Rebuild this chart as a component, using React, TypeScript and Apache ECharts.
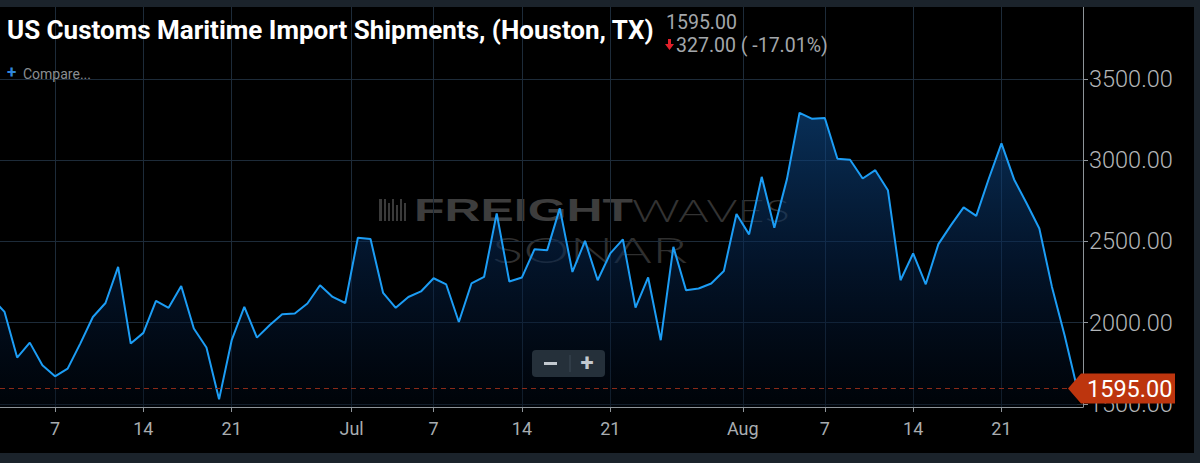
import React, { useEffect, useRef } from "react";
import * as echarts from "echarts";

// Daily values, Jun 2 – Jun 30
const junValues = [
  2150, 2066, 1785, 1877, 1738, 1670, 1717, 1871, 2035, 2121, 2343, 1871, 1937, 2134, 2091,
  2226, 1964, 1847, 1528, 1892, 2097, 1908, 1984, 2052, 2056, 2118, 2230, 2158, 2121,
];
// Jul 1 – Jul 31
const julValues = [
  2522, 2514, 2183, 2091, 2158, 2192, 2273, 2235, 2004, 2241, 2281, 2672, 2253, 2278, 2452,
  2446, 2703, 2312, 2503, 2261, 2426, 2512, 2093, 2278, 1892, 2466, 2200, 2210, 2241, 2318, 2668,
];
// Aug 1 – Aug 27
const augValues = [
  2543, 2897, 2584, 2883, 3291, 3254, 3259, 3008, 3002, 2887, 2938, 2815, 2261, 2426, 2236,
  2483, 2600, 2709, 2657, 2887, 3103, 2881, 2733, 2579, 2220, 1922, 1595,
];

// day index: 0 = Jun 1
const junStart = 1; // Jun 2
const julStart = 30; // Jul 1
const augStart = 61; // Aug 1

const xTickPositions = [6, 13, 20, 29.5, 36, 43, 50, 60.5, 67, 74, 81];
const xTickLabels = ["7", "14", "21", "Jul", "7", "14", "21", "Aug", "7", "14", "21"];
const yTickValues = [1500, 2000, 2500, 3000, 3500];

const TITLE = "US Customs Maritime Import Shipments, (Houston, TX)";

export default function App() {
  const ref = useRef<HTMLDivElement>(null);

  useEffect(() => {
    if (!ref.current) return;
    const chart = echarts.init(ref.current, undefined, { renderer: "svg" });

    const seriesData: [number, number][] = [];
    junValues.forEach((v, i) => seriesData.push([junStart + i, v]));
    julValues.forEach((v, i) => seriesData.push([julStart + i, v]));
    augValues.forEach((v, i) => seriesData.push([augStart + i, v]));

    const last = seriesData[seriesData.length - 1][1];
    const prev = seriesData[seriesData.length - 2][1];
    const change = last - prev;
    const pct = (change / prev) * 100;

    const xMin = 1.64;
    const xMax = 87.46;

    const gridColor = "#1d2b39";
    const axisColor = "#8e9499";
    const labelColor = "#a8adb1";

    const option: any = {
      animation: false,
      backgroundColor: "#000000",
      grid: { left: 0, right: 117, top: 7, bottom: 56, containLabel: false },
      xAxis: {
        type: "value",
        min: xMin,
        max: xMax,
        axisLine: { show: true, onZero: false, lineStyle: { color: axisColor, width: 1 } },
        axisTick: {
          show: true,
          customValues: xTickPositions,
          length: 5,
          lineStyle: { color: axisColor, width: 1 },
        },
        axisLabel: {
          show: true,
          customValues: xTickPositions,
          color: labelColor,
          fontSize: 18,
          fontFamily: "Roboto",
          margin: 12,
          formatter: (v: number) => {
            const i = xTickPositions.findIndex((p) => Math.abs(p - v) < 0.01);
            return i >= 0 ? xTickLabels[i] : "";
          },
        },
        splitLine: { show: true, lineStyle: { color: gridColor, width: 1 } },
      },
      yAxis: {
        type: "value",
        position: "right",
        min: 1481,
        max: 3942,
        axisLine: { show: true, lineStyle: { color: axisColor, width: 1 } },
        axisTick: {
          show: true,
          customValues: yTickValues,
          length: 5,
          lineStyle: { color: axisColor, width: 1 },
        },
        axisLabel: {
          show: true,
          customValues: yTickValues,
          color: "#b3b6b9",
          fontSize: 23.5,
          fontFamily: "Roboto",
          fontWeight: 300,
          margin: 6,
          formatter: (v: number) => v.toFixed(2),
        },
        splitLine: { show: true, lineStyle: { color: gridColor, width: 1 } },
      },
      series: [
        {
          type: "line",
          data: seriesData,
          symbol: "none",
          clip: true,
          z: 3,
          lineStyle: { color: "#1c9df5", width: 2 },
          areaStyle: {
            origin: "start",
            color: new echarts.graphic.LinearGradient(0, 0, 0, 1, [
              { offset: 0, color: "rgba(14, 78, 145, 0.85)" },
              { offset: 0.5, color: "rgba(6, 38, 80, 0.75)" },
              { offset: 1, color: "rgba(0, 8, 20, 0.6)" },
            ]),
          },
          markLine: {
            silent: true,
            symbol: "none",
            label: { show: false },
            lineStyle: { color: "#8a2a18", type: [5, 4], width: 1 },
            data: [{ yAxis: last }],
          },
        },
      ],
      graphic: {
        elements: [
          // watermark
          {
            type: "group",
            z: 1,
            silent: true,
            children: [
              { type: "rect", shape: { x: 379, y: 199, width: 3, height: 22 }, style: { fill: "#3a3a3a" } },
              { type: "rect", shape: { x: 384, y: 199, width: 2, height: 22 }, style: { fill: "#3a3a3a" } },
              { type: "rect", shape: { x: 388, y: 203, width: 2, height: 18 }, style: { fill: "#3a3a3a" } },
              { type: "rect", shape: { x: 392, y: 199, width: 2, height: 22 }, style: { fill: "#3a3a3a" } },
              { type: "rect", shape: { x: 396, y: 205, width: 2, height: 16 }, style: { fill: "#3a3a3a" } },
              { type: "rect", shape: { x: 400, y: 199, width: 2, height: 22 }, style: { fill: "#3a3a3a" } },
              { type: "rect", shape: { x: 404, y: 203, width: 2, height: 18 }, style: { fill: "#3a3a3a" } },
              {
                type: "text",
                x: 414,
                y: 210,
                scaleX: 1.56,
                style: {
                  text: "FREIGHT",
                  x: 0,
                  y: 0,
                  fill: "#3d3d3d",
                  font: "bold 32px 'Liberation Sans'",
                  verticalAlign: "middle",
                },
              },
              {
                type: "text",
                x: 632,
                y: 210,
                scaleX: 1.47,
                style: {
                  text: "WAVES",
                  x: 0,
                  y: 0,
                  fill: "#333333",
                  font: "300 32px 'Lato'",
                  verticalAlign: "middle",
                },
              },
              {
                type: "text",
                x: 492,
                y: 249,
                scaleX: 1.67,
                style: {
                  text: "SONAR",
                  x: 0,
                  y: 0,
                  fill: "#2f2f2f",
                  font: "300 35px 'Lato'",
                  verticalAlign: "middle",
                },
              },
            ],
          },
          // frame strips
          { type: "rect", z: 50, shape: { x: 0, y: 0, width: 1200, height: 7 }, style: { fill: "#1b232b" } },
          { type: "rect", z: 50, shape: { x: 1194, y: 0, width: 6, height: 463 }, style: { fill: "#1b232b" } },
          { type: "rect", z: 50, shape: { x: 0, y: 453, width: 1200, height: 10 }, style: { fill: "#1b232b" } },
          // title
          {
            type: "text",
            z: 60,
            x: 7,
            y: 30,
            scaleX: 1.0,
            style: {
              text: TITLE,
              x: 0,
              y: 0,
              fill: "#ffffff",
              font: "bold 26px Roboto",
              verticalAlign: "middle",
            },
          },
          {
            type: "text",
            z: 60,
            x: 666,
            y: 22,
            style: {
              text: last.toFixed(2),
              fill: "#a3a7ab",
              font: "19.5px Roboto",
              verticalAlign: "middle",
            },
          },
          {
            type: "polygon",
            z: 60,
            shape: {
              points: [
                [668, 39],
                [671, 39],
                [671, 44],
                [674, 44],
                [669.5, 50],
                [665, 44],
                [668, 44],
              ],
            },
            style: { fill: "#e0202a" },
          },
          {
            type: "text",
            z: 60,
            x: 676,
            y: 45,
            style: {
              text: `${Math.abs(change).toFixed(2)} ( ${pct.toFixed(2)}%)`,
              fill: "#a3a7ab",
              font: "19.5px Roboto",
              verticalAlign: "middle",
            },
          },
          // compare
          {
            type: "text",
            z: 60,
            x: 7,
            y: 72,
            style: { text: "+", fill: "#2f86dc", font: "bold 17px Roboto", verticalAlign: "middle" },
          },
          {
            type: "text",
            z: 60,
            x: 23,
            y: 74,
            style: { text: "Compare...", fill: "#8a8e92", font: "14px Roboto", verticalAlign: "middle" },
          },
          // zoom buttons
          {
            type: "rect",
            z: 60,
            shape: { x: 532, y: 350, width: 73, height: 27, r: 4 },
            style: { fill: "#25303a" },
          },
          {
            type: "line",
            z: 61,
            shape: { x1: 570, y1: 355, x2: 570, y2: 372 },
            style: { stroke: "#3c4954", lineWidth: 1 },
          },
          {
            type: "rect",
            z: 61,
            shape: { x: 544, y: 362, width: 13, height: 3 },
            style: { fill: "#c3c9cf" },
          },
          {
            type: "text",
            z: 61,
            x: 587,
            y: 363,
            style: {
              text: "+",
              fill: "#c3c9cf",
              font: "bold 24px Roboto",
              align: "center",
              verticalAlign: "middle",
            },
          },
        ],
      },
    };

    chart.setOption(option);

    const pt = chart.convertToPixel({ gridIndex: 0 }, [xMax, last]) as number[];
    const gx = pt[0];
    const py = pt[1];
    chart.setOption({
      graphic: {
        elements: [
          {
            id: "priceTag",
            type: "polygon",
            z: 70,
            shape: {
              points: [
                [gx - 15, py],
                [gx - 2, py - 15],
                [gx + 92, py - 15],
                [gx + 92, py + 15],
                [gx - 2, py + 15],
              ],
            },
            style: { fill: "#bd350e" },
          },
          {
            id: "priceText",
            type: "text",
            z: 71,
            x: gx + 4,
            y: py + 1,
            style: {
              text: last.toFixed(2),
              fill: "#ffffff",
              font: "23.5px Roboto",
              verticalAlign: "middle",
            },
          },
        ],
      },
    });

    return () => chart.dispose();
  }, []);

  return (
    <div
      ref={ref}
      style={{ position: "fixed", left: 0, top: 0, width: 1200, height: 463 }}
    />
  );
}
